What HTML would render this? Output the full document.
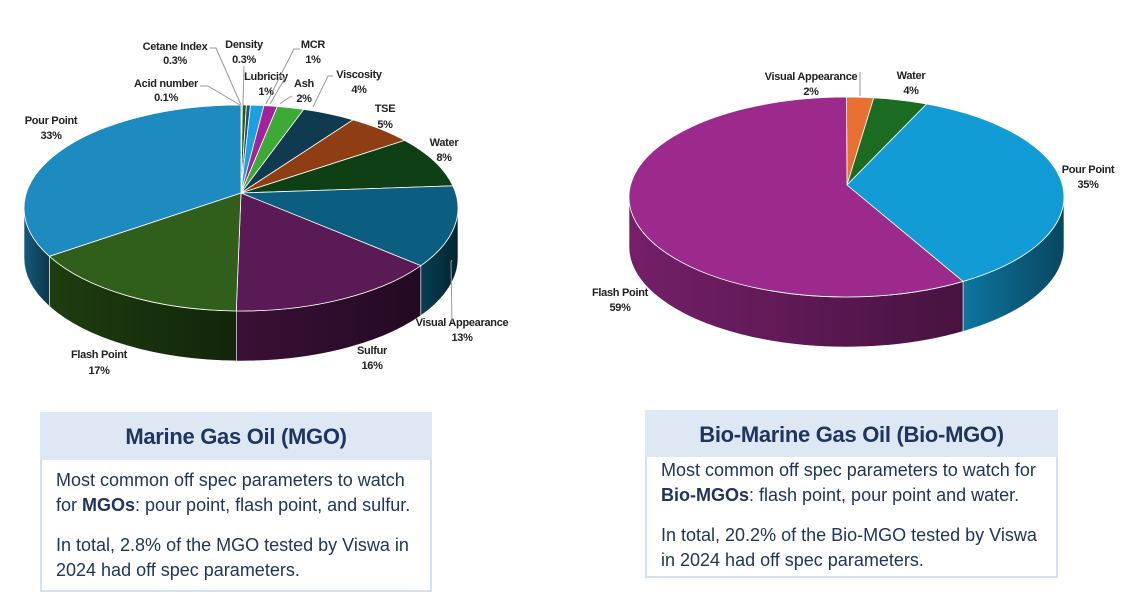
<!DOCTYPE html>
<html><head><meta charset="utf-8">
<style>
html,body{margin:0;padding:0;background:#fff;}
body{width:1121px;height:607px;position:relative;overflow:hidden;font-family:"Liberation Sans",sans-serif;}
svg{position:absolute;left:0;top:0;}
.hdr{position:absolute;background:#dde8f4;color:#1f3560;font-weight:bold;font-size:22px;text-align:center;font-family:"Liberation Sans Narrow","Liberation Sans",sans-serif;letter-spacing:-0.3px;}
.bd{position:absolute;border:2px solid #d3e0f0;border-top:none;background:#fff;color:#1f3560;font-size:18px;line-height:25px;box-sizing:border-box;padding-left:14px;white-space:nowrap;}
.bd p{margin:0;}
</style></head><body>
<svg id="s" width="1121" height="607" xmlns="http://www.w3.org/2000/svg">
<defs>
<linearGradient id="gside" gradientUnits="objectBoundingBox" x1="0" x2="1" y1="0" y2="0"><stop offset="0" stop-color="#000" stop-opacity="0"/><stop offset="1" stop-color="#000" stop-opacity="0.4"/></linearGradient>
</defs>
<g id="pies"></g>
<g font-family="Liberation Sans Narrow, Liberation Sans, sans-serif" font-size="11" font-weight="bold" fill="#222" text-anchor="middle" letter-spacing="-0.3">
<text x="175" y="50">Cetane Index</text><text x="175" y="64">0.3%</text>
<text x="166" y="87">Acid number</text><text x="166" y="101">0.1%</text>
<text x="244" y="48">Density</text><text x="244" y="63">0.3%</text>
<text x="313" y="48">MCR</text><text x="313" y="63">1%</text>
<text x="266" y="80">Lubricity</text><text x="266" y="95">1%</text>
<text x="304" y="87">Ash</text><text x="304" y="102">2%</text>
<text x="359" y="78">Viscosity</text><text x="359" y="93">4%</text>
<text x="385" y="112">TSE</text><text x="385" y="128">5%</text>
<text x="444" y="146">Water</text><text x="444" y="161">8%</text>
<text x="51" y="124">Pour Point</text><text x="51" y="139">33%</text>
<text x="462" y="326">Visual Appearance</text><text x="462" y="341">13%</text>
<text x="372" y="354">Sulfur</text><text x="372" y="369">16%</text>
<text x="99" y="358">Flash Point</text><text x="99" y="374">17%</text>
<text x="811" y="80">Visual Appearance</text><text x="811" y="95">2%</text>
<text x="911" y="79">Water</text><text x="911" y="94">4%</text>
<text x="1088" y="173">Pour Point</text><text x="1088" y="188">35%</text>
<text x="620" y="296">Flash Point</text><text x="620" y="311">59%</text>
</g>
<g stroke="#999" stroke-width="1" fill="none">
<polyline points="210,48 216,48 241,105"/>
<polyline points="200,86 208,86 240,105"/>
<line x1="244" y1="66" x2="243" y2="105"/>
<polyline points="300,49 294,49 266,104"/>
<polyline points="279,78 285,78 270,104"/>
<polyline points="292,96 285,100 280,104"/>
<polyline points="333,76 328,76 313,107"/>
<polyline points="452,260 451,262 452,323"/>
<line x1="860" y1="72" x2="860" y2="96"/>
</g>
</svg>
<div class="hdr" style="left:40px;top:412px;width:392px;height:48px;line-height:50px;">Marine Gas Oil (MGO)</div>
<div class="bd" style="left:40px;top:460px;width:392px;height:132px;padding-top:8px;">
<p>Most common off spec parameters to watch<br>for <b>MGOs</b>: pour point, flash point, and sulfur.</p>
<p style="margin-top:15px">In total, 2.8% of the MGO tested by Viswa in<br>2024 had off spec parameters.</p>
</div>
<div class="hdr" style="left:645px;top:410px;width:413px;height:47px;line-height:50px;">Bio-Marine Gas Oil (Bio-MGO)</div>
<div class="bd" style="left:645px;top:457px;width:413px;height:121px;padding-top:1px;">
<p>Most common off spec parameters to watch for<br><b>Bio-MGOs</b>: flash point, pour point and water.</p>
<p style="margin-top:15px">In total, 20.2% of the Bio-MGO tested by Viswa<br>in 2024 had off spec parameters.</p>
</div>
<script>
function shade(h,f){var n=parseInt(h.slice(1),16);var r=(n>>16)*f,g=((n>>8)&255)*f,b=(n&255)*f;return 'rgb('+(r|0)+','+(g|0)+','+(b|0)+')';}
function pie(P){
 var g=document.getElementById('pies'),out='';
 var tot=0;P.data.forEach(function(d){tot+=d[0];});
 function pt(a,dy){var r=a*Math.PI/180;return [P.cx+P.rx*Math.sin(r),P.cy-P.ry*Math.cos(r)+(dy||0)];}
 var a=0,sl=[];P.data.forEach(function(d){var b=a+d[0]/tot*360;sl.push([a,b,d[1]]);a=b;});
 sl.forEach(function(s){
  var a0=Math.max(s[0],90),a1=Math.min(s[1],270);
  if(a1>a0){var p0=pt(a0),p1=pt(a1),q1=pt(a1,P.d),q0=pt(a0,P.d);
   var d='M'+p0+' A'+P.rx+' '+P.ry+' 0 0 1 '+p1+' L'+q1+' A'+P.rx+' '+P.ry+' 0 0 0 '+q0+' Z';
   out+='<path d="'+d+'" fill="'+shade(s[2],P.sf)+'"/>';
   out+='<path d="'+d+'" fill="url(#gside)" stroke="#fff" stroke-width="0.6"/>';}
 });
 sl.forEach(function(s){var p0=pt(s[0]),p1=pt(s[1]);var lg=(s[1]-s[0])>180?1:0;
  out+='<path d="M'+P.ax+','+P.ay+' L'+p0+' A'+P.rx+' '+P.ry+' 0 '+lg+' 1 '+p1+' Z" fill="'+s[2]+'" stroke="#fff" stroke-width="0.8"/>';});
 g.innerHTML+=out;
}
pie({cx:241,cy:208,rx:217,ry:103,d:50,ax:241,ay:193,sf:0.65,data:[[0.1,'#e87722'],[0.3,'#2d5a1b'],[0.3,'#1f4e79'],[1,'#1ba1e2'],[1,'#a3229c'],[2,'#3caa35'],[4,'#0f3a4f'],[5,'#8f3d12'],[8,'#0f3f15'],[13,'#0b5e80'],[16,'#5a1a55'],[17,'#2f5f1a'],[33,'#1e8bc0']]});
pie({cx:846.5,cy:197,rx:217.5,ry:100,d:50,ax:847,ay:185,sf:0.75,data:[[2,'#e87030'],[4,'#1b6b22'],[35,'#129cd6'],[59,'#9c2a8c']]});
</script>
</body></html>
